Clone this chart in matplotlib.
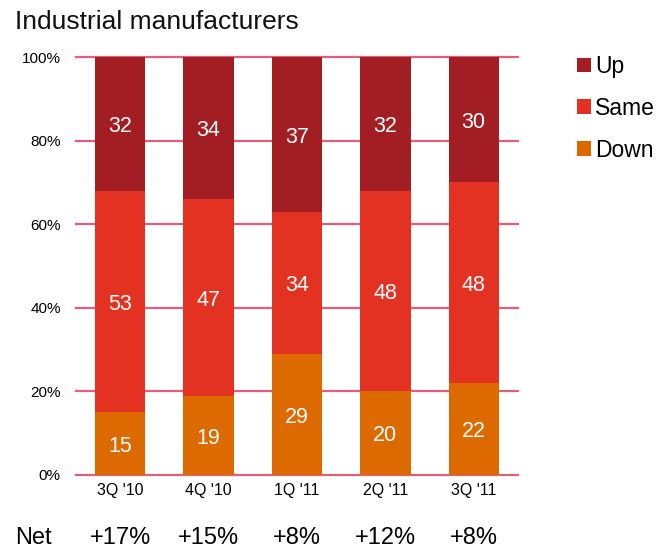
import matplotlib
matplotlib.use("Agg")
import matplotlib.pyplot as plt
import numpy as np

plt.rcParams['font.family'] = ['Liberation Sans', 'DejaVu Sans']

quarters = ["3Q '10", "4Q '10", "1Q '11", "2Q '11", "3Q '11"]
down = [15, 19, 29, 20, 22]
same = [53, 47, 34, 48, 48]
up = [32, 34, 37, 32, 30]
net = ["+17%", "+15%", "+8%", "+12%", "+8%"]
yticks = [0, 20, 40, 60, 80, 100]

c_up = "#A31E22"
c_same = "#E33222"
c_down = "#DD6A00"
c_grid = "#E0607A"

fig = plt.figure(figsize=(6.7, 5.49), dpi=100)
ax = fig.add_axes([0.1134, 0.1348, 0.773 - 0.1134, 0.896 - 0.1348])

x = np.arange(len(quarters))
w = 0.57
down_a = np.array(down)
same_a = np.array(same)
up_a = np.array(up)

b1 = ax.bar(x, down_a, w, color=c_down, label="Down", zorder=3)
b2 = ax.bar(x, same_a, w, bottom=down_a, color=c_same, label="Same", zorder=3)
b3 = ax.bar(x, up_a, w, bottom=down_a + same_a, color=c_up, label="Up", zorder=3)

for bottoms, vals in [(np.zeros(len(x)), down_a), (down_a, same_a), (down_a + same_a, up_a)]:
    for xi, b, v in zip(x, bottoms, vals):
        ax.annotate(str(v), (xi, b + v / 2), xytext=(0, -2), textcoords="offset points",
                    ha="center", va="center", color="white", fontsize=15.5, zorder=4)

ax.set_xlim(-0.5, len(x) - 0.5)
ax.set_ylim(0, 100)
ax.set_yticks(yticks)
ax.set_yticklabels([f"{t}%" for t in yticks], fontsize=11)
ax.set_xticks(x)
ax.set_xticklabels(quarters, fontsize=11.5)
ax.tick_params(axis="both", length=0)
ax.tick_params(axis="y", pad=11)
ax.tick_params(axis="x", pad=6)
for s in ax.spines.values():
    s.set_visible(False)
ax.set_axisbelow(True)
for t in yticks:
    ax.axhline(t, color=c_grid, linewidth=1.6, zorder=1, clip_on=False)

fig.text(15 / 670, 1 - 22 / 549, "Industrial manufacturers", fontsize=19,
         ha="left", va="center", color="#111111")

# Net balance row beneath the quarters
fig.text(15 / 670, 1 - 538 / 549, "Net", fontsize=17, ha="left", va="center")
for xi, n in zip(x, net):
    xd, _ = ax.transData.transform((xi, 0))
    fig.text(xd / fig.bbox.width, 1 - 538 / 549, n, fontsize=17,
             ha="center", va="center")

handles = [b3, b2, b1]
leg = fig.legend(handles, ["Up", "Same", "Down"], loc="upper left",
                 bbox_to_anchor=(577 / 670, 1 - 55 / 549), frameon=False,
                 fontsize=16.5, handlelength=0.6, handleheight=0.6,
                 handletextpad=0.2, labelspacing=0.82, borderpad=0,
                 borderaxespad=0)

fig.savefig("out.png", dpi=100)
